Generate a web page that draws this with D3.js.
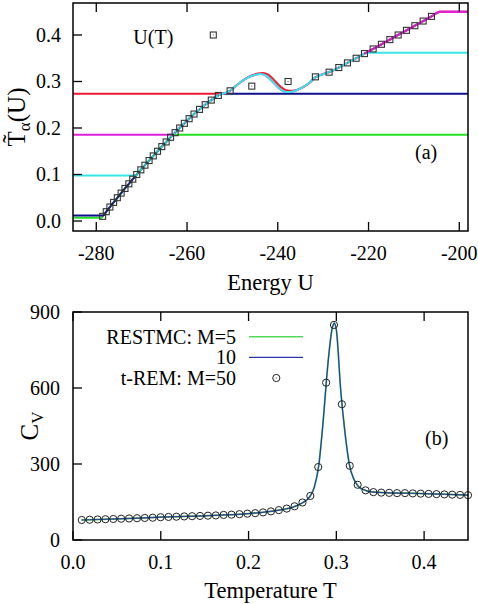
<!DOCTYPE html>
<html><head><meta charset="utf-8">
<script src="https://cdn.jsdelivr.net/npm/d3@7"></script>
<style>
html,body{margin:0;padding:0;background:#fff;}
text{font-family:"Liberation Serif","DejaVu Serif",serif;fill:#000;}
</style></head>
<body>
<svg id="chart" width="478" height="604"></svg>
<script>
// ---------- Panel (a) data ----------
// U(T) squares: temperatures and energies
const squareT = [0.01,0.02,0.03,0.04,0.05,0.06,0.07,0.08,0.09,0.10,0.11,0.12,0.13,0.14,0.15,0.16,0.17,0.18,0.19,0.20,0.21,0.22,0.23,0.24,0.25,0.26,0.27,0.28,0.29,0.30,0.31,0.32,0.33,0.34,0.35,0.36,0.37,0.38,0.39,0.40,0.41,0.42,0.43,0.44];
const squareU = [-278.6,-277.8,-277.0,-276.18,-275.36,-274.52,-273.68,-272.82,-271.96,-271.08,-270.18,-269.28,-268.36,-267.44,-266.5,-265.56,-264.6,-263.62,-262.63,-261.62,-260.59,-259.54,-258.46,-257.25,-256.0,-254.65,-253.1,-250.5,-245.73,-237.73,-231.71,-228.69,-226.55,-224.65,-222.73,-220.9,-218.99,-217.16,-215.3,-213.47,-211.64,-209.79,-207.96,-206.13];
// common rising trace of the T~(U) curves
const traceU = [-278.6,-277.8,-277.0,-276.18,-275.36,-274.52,-273.68,-272.82,-271.96,-271.08,-270.18,-269.28,-268.36,-267.44,-266.5,-265.56,-264.6,-263.62,-262.63,-261.62,-260.59,-259.54,-258.46,-257.25,-256.0,-254.65,-253.1,-250.5,-249.5,-248.3,-246.5,-244.8,-243.8,-242.6,-241.2,-239.9,-238.7,-237.4,-236.0,-233.6,-231.7,-228.69,-226.55,-224.65,-222.73,-220.9,-218.99,-217.16,-215.3,-213.47,-211.64,-209.79,-207.96,-206.13];
const traceT = [0.01,0.02,0.03,0.04,0.05,0.06,0.07,0.08,0.09,0.10,0.11,0.12,0.13,0.14,0.15,0.16,0.17,0.18,0.19,0.20,0.21,0.22,0.23,0.24,0.25,0.26,0.27,0.28,0.288,0.298,0.309,0.3148,0.316,0.3125,0.300,0.287,0.2785,0.2772,0.2805,0.293,0.309,0.32,0.33,0.34,0.35,0.36,0.37,0.38,0.39,0.40,0.41,0.42,0.43,0.44];
// the red replica runs slightly higher through the loop
const redLoopU = [-249.3,-248.0,-246.2,-244.4,-243.3,-242.1,-240.8,-239.5,-238.2,-236.9,-235.5,-233.3];
const redLoopT = [0.290,0.300,0.311,0.3172,0.3182,0.3148,0.303,0.290,0.2815,0.2800,0.2830,0.2945];
// replicas: plateau values and where they join / leave the trace
const replicaLow   = [0.007, 0.012, 0.098, 0.2735, 0.1856];
const replicaHigh  = [0.1856, 0.2735, 0.362, 0.45, 0.45];
const replicaStart = [-278.9, -278.5, -271.25, -252.2, -263.07];
const replicaEnd   = [-263.07, -252.2, -220.5, -204.3, -204.3];
const replicaColor = ["#22e022","#10108a","#38e6e6","#ee1830","#e020d8"];
const topXTicks = [-280,-260,-240,-220,-200];
const topYTicks = [0.0,0.1,0.2,0.3,0.4];

// ---------- Panel (b) data ----------
const remT = [0.0100,0.0190,0.0280,0.0369,0.0459,0.0549,0.0639,0.0729,0.0818,0.0908,0.0998,0.1088,0.1178,0.1267,0.1357,0.1447,0.1537,0.1627,0.1716,0.1806,0.1896,0.1986,0.2076,0.2165,0.2255,0.2345,0.2435,0.2524,0.2614,0.2704,0.2794,0.2884,0.2973,0.3063,0.3153,0.3243,0.3333,0.3422,0.3512,0.3602,0.3692,0.3782,0.3871,0.3961,0.4051,0.4141,0.4231,0.4320,0.4410,0.4500];
const remCv = [79,80,81,82,83,84,85,86,87,88,90,91,92,93,94,95,96,97,99,100,102,104,106,109,113,118,124,133,148,174,288,621,849,536,293,218,196,189,187,186,185,185,184,183,182,181,180,179,178,177];
const restmcT = [0.01,0.05,0.10,0.15,0.20,0.22,0.24,0.25,0.26,0.27,0.275,0.28,0.285,0.29,0.295,0.2975,0.30,0.305,0.31,0.315,0.32,0.325,0.33,0.34,0.36,0.38,0.40,0.42,0.45];
const restmc5  = [79,83.5,90,95.5,104,111,121,129,144,172,210,295,470,680,830,856,830,590,420,295,240,212,200,190,186,185,183,181,177];
const restmc10 = [79,83.5,90,95.5,104,111,121,129,144,172,210,295,470,680,830,856,830,590,420,295,240,212,200,190,186,185,183,181,177];
const botXTicks = [0.0,0.1,0.2,0.3,0.4];
const botYTicks = [0,300,600,900];

const svg = d3.select("#chart");

// ================= Panel (a) =================
const xa = d3.scaleLinear().domain([-285.13,-198.08]).range([73,468]);
const ya = d3.scaleLinear().domain([-0.0215,0.4688]).range([231,3]);
const ga = svg.append("g");

const lineA = d3.line().x(d=>xa(d[0])).y(d=>ya(d[1])).curve(d3.curveMonotoneX);
function replicaPoints(r){
  const pts = [[xa.domain()[0], replicaLow[r]], [replicaStart[r], replicaLow[r]]];
  const isRed = (r===3);
  traceU.forEach((u,i)=>{
    if(u>replicaStart[r] && u<replicaEnd[r]){
      if(isRed && u>redLoopU[0]-0.5 && u<redLoopU[redLoopU.length-1]+0.5) return;
      pts.push([u, traceT[i]]);
    }
  });
  if(isRed) redLoopU.forEach((u,i)=>pts.push([u, redLoopT[i]]));
  pts.sort((a,b)=>a[0]-b[0]);
  pts.push([replicaEnd[r], replicaHigh[r]]);
  pts.push([xa.domain()[1], replicaHigh[r]]);
  return pts;
}
// drawing order: green, navy, red, magenta, cyan
[0,1,3,4,2].forEach(r=>{
  ga.append("path").attr("d", lineA(replicaPoints(r))).attr("fill","none")
    .attr("stroke", replicaColor[r]).attr("stroke-width", 2);
});
// magenta on top above the cyan plateau
(function(){
  const r = 4;
  const pts = replicaPoints(r).filter(p=>p[0]>=replicaEnd[2]-0.6);
  ga.append("path").attr("d", lineA(pts)).attr("fill","none")
    .attr("stroke", replicaColor[r]).attr("stroke-width", 2);
})();

// squares
const sq = 6;
squareT.forEach((t,i)=>{
  const cx = xa(squareU[i]), cy = ya(t);
  ga.append("rect").attr("x",cx-sq/2).attr("y",cy-sq/2).attr("width",sq).attr("height",sq)
    .attr("fill","none").attr("stroke","#333").attr("stroke-width",1.1);
  ga.append("rect").attr("x",cx-0.5).attr("y",cy-0.5).attr("width",1).attr("height",1).attr("fill","#555");
});

// frame
ga.append("rect").attr("x",73).attr("y",3).attr("width",395).attr("height",228)
  .attr("fill","none").attr("stroke","#000").attr("stroke-width",1.5);
topXTicks.forEach(v=>{
  const x = xa(v);
  ga.append("line").attr("x1",x).attr("x2",x).attr("y1",231).attr("y2",222).attr("stroke","#000").attr("stroke-width",1.3);
  ga.append("line").attr("x1",x).attr("x2",x).attr("y1",3).attr("y2",12).attr("stroke","#000").attr("stroke-width",1.3);
  ga.append("text").attr("x",x).attr("y",259.5).attr("text-anchor","middle").attr("font-size",20).text(v);
});
topYTicks.forEach(v=>{
  const y = ya(v);
  ga.append("line").attr("x1",73).attr("x2",82).attr("y1",y).attr("y2",y).attr("stroke","#000").attr("stroke-width",1.3);
  ga.append("text").attr("x",61).attr("y",y+7).attr("text-anchor","end").attr("font-size",20).text(v.toFixed(1));
});
ga.append("text").attr("x",270.5).attr("y",290).attr("text-anchor","middle").attr("font-size",22.5).text("Energy U");
const yla = ga.append("text").attr("transform","translate(25,117) rotate(-90)").attr("text-anchor","middle").attr("font-size",25);
yla.append("tspan").text("T\u0303");
yla.append("tspan").attr("font-size",17).attr("dy",5).text("\u03b1");
yla.append("tspan").attr("dy",-5).text("(U)");
ga.append("text").attr("x",173.3).attr("y",43.5).attr("text-anchor","end").attr("font-size",20).text("U(T)");
ga.append("rect").attr("x",213.3-sq/2).attr("y",35-sq/2).attr("width",sq).attr("height",sq)
  .attr("fill","none").attr("stroke","#333").attr("stroke-width",1.1);
ga.append("rect").attr("x",212.8).attr("y",34.5).attr("width",1).attr("height",1).attr("fill","#555");
ga.append("text").attr("x",415).attr("y",159).attr("font-size",20).text("(a)");

// ================= Panel (b) =================
const xb = d3.scaleLinear().domain([0,0.45]).range([73,468]);
const yb = d3.scaleLinear().domain([0,900]).range([540,312]);
const gb = svg.append("g");
const lineB = d3.line().x(d=>xb(d[0])).y(d=>yb(d[1])).curve(d3.curveMonotoneX);
gb.append("path").attr("d", lineB(restmcT.map((t,i)=>[t,restmc5[i]]))).attr("fill","none")
  .attr("stroke","#55d855").attr("stroke-width",1.8);
gb.append("path").attr("d", lineB(restmcT.map((t,i)=>[t,restmc10[i]]))).attr("fill","none")
  .attr("stroke","#2a3aa8").attr("stroke-width",1.2);
remT.forEach((t,i)=>{
  const cx = xb(t), cy = yb(remCv[i]);
  gb.append("circle").attr("cx",cx).attr("cy",cy).attr("r",3.6).attr("fill","none").attr("stroke","#222").attr("stroke-width",1);
  gb.append("rect").attr("x",cx-0.5).attr("y",cy-0.5).attr("width",1).attr("height",1).attr("fill","#555");
});
gb.append("rect").attr("x",73).attr("y",312).attr("width",395).attr("height",228)
  .attr("fill","none").attr("stroke","#000").attr("stroke-width",1.5);
botXTicks.forEach(v=>{
  const x = xb(v);
  gb.append("line").attr("x1",x).attr("x2",x).attr("y1",540).attr("y2",531).attr("stroke","#000").attr("stroke-width",1.3);
  gb.append("line").attr("x1",x).attr("x2",x).attr("y1",312).attr("y2",321).attr("stroke","#000").attr("stroke-width",1.3);
  gb.append("text").attr("x",x).attr("y",568.5).attr("text-anchor","middle").attr("font-size",20).text(v.toFixed(1));
});
botYTicks.forEach(v=>{
  const y = yb(v);
  gb.append("line").attr("x1",73).attr("x2",82).attr("y1",y).attr("y2",y).attr("stroke","#000").attr("stroke-width",1.3);
  gb.append("text").attr("x",60).attr("y",y+7).attr("text-anchor","end").attr("font-size",20).text(v);
});
gb.append("text").attr("x",270.5).attr("y",598).attr("text-anchor","middle").attr("font-size",22.5).text("Temperature T");
const ylb = gb.append("text").attr("transform","translate(38,426) rotate(-90)").attr("text-anchor","middle").attr("font-size",25);
ylb.append("tspan").text("C");
ylb.append("tspan").attr("font-size",17).attr("dy",5).text("V");
const legY = [336.7, 357.3, 378];
gb.append("text").attr("x",236).attr("y",legY[0]+7).attr("text-anchor","end").attr("font-size",20).text("RESTMC: M=5");
gb.append("line").attr("x1",249).attr("x2",303).attr("y1",legY[0]).attr("y2",legY[0]).attr("stroke","#55d855").attr("stroke-width",1.5);
gb.append("text").attr("x",236).attr("y",legY[1]+7).attr("text-anchor","end").attr("font-size",20).text("10");
gb.append("line").attr("x1",249).attr("x2",303).attr("y1",legY[1]).attr("y2",legY[1]).attr("stroke","#2a3aa8").attr("stroke-width",1.3);
gb.append("text").attr("x",236).attr("y",legY[2]+7).attr("text-anchor","end").attr("font-size",20).text("t-REM: M=50");
gb.append("circle").attr("cx",276.3).attr("cy",legY[2]).attr("r",3.6).attr("fill","none").attr("stroke","#222").attr("stroke-width",1);
gb.append("rect").attr("x",275.8).attr("y",legY[2]-0.5).attr("width",1).attr("height",1).attr("fill","#555");
gb.append("text").attr("x",425).attr("y",444.5).attr("font-size",20).text("(b)");
</script>
</body></html>
